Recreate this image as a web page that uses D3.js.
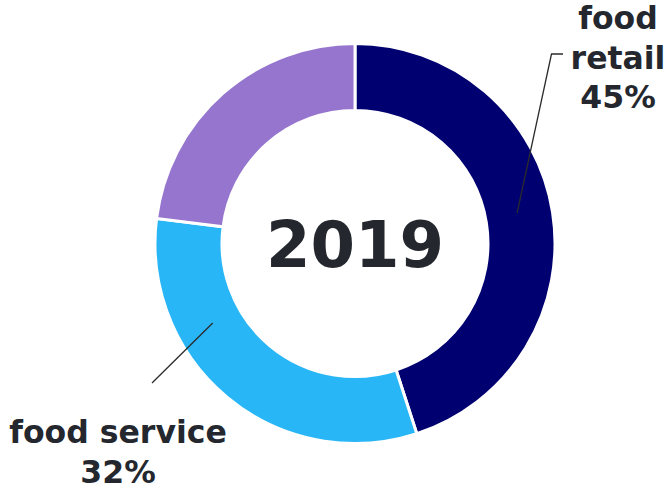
<!DOCTYPE html>
<html>
<head>
<meta charset="utf-8">
<script src="https://cdn.jsdelivr.net/npm/d3@7"></script>
<style>
  html, body { margin: 0; padding: 0; background: #fff; }
  svg { display: block; }
</style>
</head>
<body>
<svg id="chart" width="667" height="492"></svg>
<script>
// Market split by channel
const categories = ["food retail", "food service", "other"];
const shares = [45, 32, 23];
const colors = ["#000070", "#29b6f6", "#9575cd"];
const centerLabel = "2019";
const labelled = [true, true, false];

const width = 667, height = 492;
const cx = 355, cy = 243.5;
const outerR = 200, innerR = 133;
const textColor = "#24272e";
const font = "'DejaVu Sans', Verdana, sans-serif";

const svg = d3.select("#chart");
const g = svg.append("g").attr("transform", `translate(${cx},${cy})`);

const pie = d3.pie().sort(null).value(d => d.value);
const arcs = pie(categories.map((c, i) => ({ name: c, value: shares[i], color: colors[i] })));
const arc = d3.arc().innerRadius(innerR).outerRadius(outerR);

g.selectAll("path.slice")
  .data(arcs)
  .join("path")
  .attr("class", "slice")
  .attr("d", arc)
  .attr("fill", d => d.data.color)
  .attr("stroke", "#fff")
  .attr("stroke-width", 3)
  .attr("stroke-linejoin", "miter");

// centre caption
g.append("text")
  .attr("x", 0)
  .attr("y", 23.5)
  .attr("text-anchor", "middle")
  .attr("font-family", font)
  .attr("font-weight", "bold")
  .attr("font-size", 64)
  .attr("fill", textColor)
  .text(centerLabel);

// leader lines and labels (anchor angle in degrees from 12 o'clock)
const callouts = [
  { index: 0, angle: 79.3, r: 165, path: [[551.5, 54], [563, 54]], lines: ["food", "retail"], tx: 618, ty: 29 },
  { index: 1, angle: 240.8, r: 163, path: [[152, 383]], lines: ["food service"], tx: 118, ty: 443 }
];

const toXY = (angleDeg, r) => {
  const a = angleDeg * Math.PI / 180;
  return [cx + r * Math.sin(a), cy - r * Math.cos(a)];
};

callouts.forEach(c => {
  if (!labelled[c.index]) return;
  const pts = [toXY(c.angle, c.r), ...c.path];
  svg.append("path")
    .attr("d", d3.line()(pts))
    .attr("fill", "none")
    .attr("stroke", "#2b2b2b")
    .attr("stroke-width", 1.3);

  const t = svg.append("text")
    .attr("text-anchor", "middle")
    .attr("font-family", font)
    .attr("font-weight", "bold")
    .attr("font-size", 31.5)
    .attr("fill", textColor);
  const rows = [...c.lines, shares[c.index] + "%"];
  rows.forEach((row, k) => {
    t.append("tspan")
      .attr("x", c.tx)
      .attr("y", c.ty + k * 39.5)
      .text(row);
  });
});
</script>
</body>
</html>
